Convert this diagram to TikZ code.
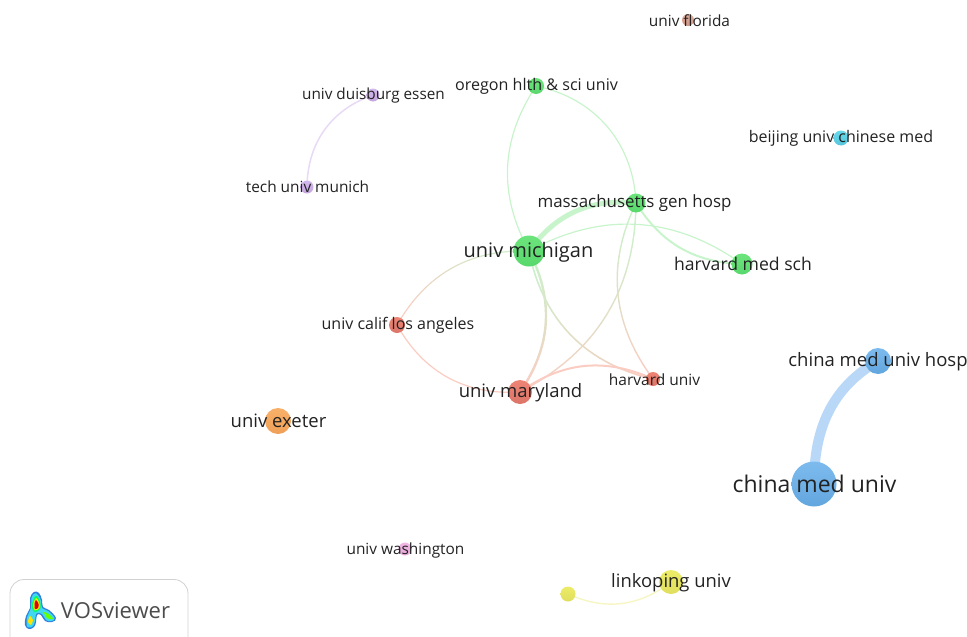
\documentclass[tikz,border=0pt]{standalone}
\usepackage{fontspec}
\setmainfont{Open Sans}
\usetikzlibrary{backgrounds}
\definecolor{gnA}{HTML}{6CE47C}\definecolor{gnB}{HTML}{58D86C}
\definecolor{blA}{HTML}{7DBBEE}\definecolor{blB}{HTML}{62A6DE}
\definecolor{rdA}{HTML}{EE8474}\definecolor{rdB}{HTML}{DC7468}
\definecolor{orA}{HTML}{F8B068}\definecolor{orB}{HTML}{EFA058}
\definecolor{yeA}{HTML}{ECEC68}\definecolor{yeB}{HTML}{E0DE5E}
\definecolor{puA}{HTML}{D2B8EC}\definecolor{puB}{HTML}{C4A6E0}
\definecolor{cyA}{HTML}{68D8EA}\definecolor{cyB}{HTML}{56C6DE}
\definecolor{brA}{HTML}{E0AC9C}\definecolor{brB}{HTML}{D09888}
\definecolor{piA}{HTML}{F0B8E4}\definecolor{piB}{HTML}{E6A8D8}
\definecolor{lkG}{HTML}{C8F4CC}\definecolor{lkR}{HTML}{FACCC2}
\definecolor{lkB}{HTML}{B9D8F8}\definecolor{lkP}{HTML}{E8DAF4}\definecolor{lkY}{HTML}{F6F6C4}
\definecolor{txt}{HTML}{222222}
\definecolor{lgE}{HTML}{2E7FE0}\definecolor{lgC}{HTML}{3FD8EE}
\tikzset{
  bub/.style 2 args={circle,inner sep=0pt,minimum size=#1,top color=#2A,bottom color=#2B,draw=none},
  lab/.style={text=txt,inner sep=0pt,anchor=center},
  lnk/.style={line cap=round,fill=none},
  bendL/.style={bend left=#1},
  bendR/.style={bend right=#1}
}
\pgfdeclarelayer{links}\pgfsetlayers{links,main}
\newcommand\glink[6]{%
  \foreach \i in {1,...,24}{%
    \pgfmathsetmacro\ta{(\i-1)/24}%
    \pgfmathsetmacro\tb{\i/24}%
    \pgfmathtruncatemacro\mx{100-(\i-0.5)*100/24}%
    \path (#1.center) to[#3] coordinate[pos=\ta] (pa) coordinate[pos=\tb] (pb) (#2.center);
    \draw[lnk,line width=#6,color={#4!\mx!#5}] (pa) -- (pb);
  }%
}
\newcommand\fs[1]{\fontsize{#1}{#1}\selectfont}
\begin{document}
\begin{tikzpicture}[x=1pt,y=-1pt]
\useasboundingbox (0,0) rectangle (967,637);
% bubbles
\node[bub={12pt}{br}] (florida) at (688,20) {};
\node[bub={16pt}{gn}] (oregon) at (536,86) {};
\node[bub={13pt}{pu}] (duisburg) at (373,95) {};
\node[bub={15pt}{cy}] (beijing) at (841,138) {};
\node[bub={13pt}{pu}] (munich) at (307,187) {};
\node[bub={19pt}{gn}] (mass) at (636,203) {};
\node[bub={31pt}{gn}] (michigan) at (529,251) {};
\node[bub={21pt}{gn}] (hms) at (742,264) {};
\node[bub={16pt}{rd}] (calif) at (397,325) {};
\node[bub={26pt}{bl}] (hosp) at (878,361) {};
\node[bub={14pt}{rd}] (harvard) at (653,379) {};
\node[bub={24pt}{rd}] (maryland) at (520,392) {};
\node[bub={26pt}{or}] (exeter) at (278,421) {};
\node[bub={45pt}{bl}] (china) at (814,484) {};
\node[bub={13pt}{pi}] (washington) at (405,549) {};
\node[bub={24pt}{ye}] (linkoping) at (671,582) {};
\node[bub={15pt}{ye}] (yellow) at (568,594) {};
% links
\begin{pgfonlayer}{links}
\draw[lnk,lkG,line width=1.2pt] (oregon.center) to[bendR=31] (michigan.center);
\draw[lnk,lkG,line width=1.2pt] (oregon.center) to[bendL=38] (mass.center);
\draw[lnk,lkG,line width=5pt] (michigan.center) to[bendL=30] (mass.center);
\draw[lnk,lkG,line width=2pt] (mass.center) to[bendR=28] (hms.center);
\draw[lnk,lkG,line width=1.2pt] (michigan.center) to[bendL=32] (hms.center);
\draw[lnk,lkP,line width=1.5pt] (duisburg.center) to[bendR=35] (munich.center);
\draw[lnk,lkY,line width=1.4pt] (linkoping.center) to[bendL=31] (yellow.center);
\draw[lnk,lkB,line width=10pt,line cap=butt] (china.center) to[out=90,in=210] (hosp.center);
\glink{michigan}{maryland}{bendL=31}{lkG}{lkR}{2.4pt}
\glink{michigan}{harvard}{bendR=33}{lkG}{lkR}{1.6pt}
\glink{michigan}{calif}{bendR=31}{lkG}{lkR}{1.2pt}
\glink{mass}{maryland}{bendL=31}{lkG}{lkR}{1.4pt}
\glink{mass}{harvard}{bendR=31}{lkG}{lkR}{1.4pt}
\draw[lnk,lkR,line width=1.2pt] (calif.center) to[bendR=32] (maryland.center);
\draw[lnk,lkR,line width=2pt] (maryland.center) to[bendL=30] (harvard.center);
\end{pgfonlayer}
% labels
\node[lab] (t1) at (689.5,21) {\fs{15.4}univ florida};
\node[lab] (t2) at (536.5,86.5) {\fs{16.1}oregon hlth \& sci univ};
\node[lab] (t3) at (373.5,96) {\fs{15.3}univ duisburg essen};
\node[lab] (t4) at (841,138.5) {\fs{16}beijing univ chinese med};
\node[lab] (t5) at (307.5,187) {\fs{15.4}tech univ munich};
\node[lab] (t6) at (634.5,203.5) {\fs{16.9}massachusetts gen hosp};
\node[lab] (t7) at (528.5,252) {\fs{20}univ michigan};
\node[lab] (t8) at (743,264) {\fs{17.6}harvard med sch};
\node[lab] (t9) at (398,325.5) {\fs{16}univ calif los angeles};
\node[lab] (t10) at (878,362) {\fs{18.5}china med univ hosp};
\node[lab] (t11) at (654.5,380) {\fs{15.5}harvard univ};
\node[lab] (t12) at (520.5,392.5) {\fs{18.5}univ maryland};
\node[lab] (t13) at (278.5,421) {\fs{18.5}univ exeter};
\node[lab] (t14) at (814.5,484) {\fs{23}china med univ};
\node[lab] (t15) at (405.5,550.5) {\fs{15.4}univ washington};
\node[lab] (t16) at (671,582.5) {\fs{18.4}linkoping univ};
% logo
\path[draw=black!18,line width=0.8pt,rounded corners=14pt] (10,660) -- (10,579.5) -- (188,579.5) -- (188,660);
\node[lab,text=black!70] (vos) at (115.5,611) {\fs{22}VOSviewer};
\fill[lgE] plot[smooth cycle,tension=0.7] coordinates {(34,592)(39,593)(42,600)(43,607)(49,610)(56,618)(52,622)(45,621)(41,615)(37,615)(36,622)(34,627)(29,629)(25,625)(26,616)(30,608)(30,598)};
\fill[lgC] plot[smooth cycle,tension=0.7] coordinates {(34.5,593.5)(38,595)(41,601)(42,608)(48,611)(54.5,618)(51.5,621)(46,620)(42,614)(36.5,613.5)(35,621)(33,626)(29,627.5)(26.5,624.5)(27.5,616)(31,608)(31.5,598)};
\fill[green!65!cyan] plot[smooth cycle] coordinates {(35.5,596)(39.5,600)(40.5,608)(35,612)(31.5,606)};
\fill[yellow!90!orange] plot[smooth cycle] coordinates {(36,598)(39,602)(39.5,608)(35,610.5)(33,605)};
\fill[yellow!85!orange] plot[smooth cycle] coordinates {(30,616)(33,620)(31,625)(28,622)};
\fill[green!60!yellow] plot[smooth cycle] coordinates {(44,612)(50,615)(53,619)(47,618)};
\fill[red!85!black] plot[smooth cycle] coordinates {(36,600)(38.5,604)(38,608)(35,609)(34.5,604)};
\end{tikzpicture}
\end{document}
